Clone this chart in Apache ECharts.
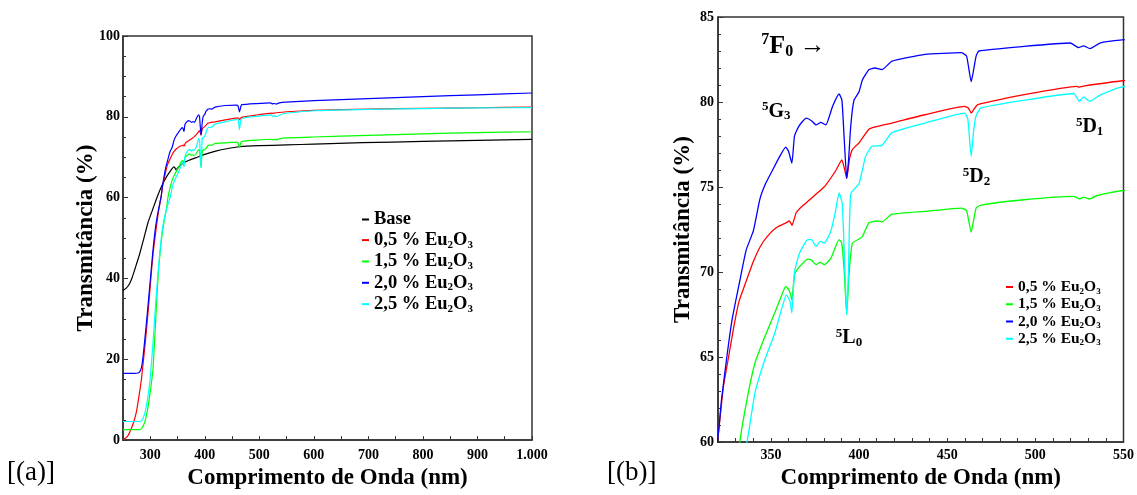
<!DOCTYPE html>
<html><head><meta charset="utf-8">
<script src="https://cdn.jsdelivr.net/npm/echarts@6/dist/echarts.min.js"></script>
<style>html,body{margin:0;padding:0;background:#fff}#c{width:1137px;height:495px}</style>
</head><body><div id="c"></div><script>
const FONT = 'Liberation Serif';
const seriesNames = ['Base', '0,5 % Eu2O3', '1,5 % Eu2O3', '2,0 % Eu2O3', '2,5 % Eu2O3'];
const seriesColors = ['#000000', '#ff0000', '#00ff00', '#0000ff', '#00ffff'];

const base = [[250,37.0],[256,37.6],[262,38.7],[267,40.3],[272,42.4],[280,45.8],[288,49.8],[296,53.9],[305,57.3],[313,60.3],[321,62.9],[330,65.2],[339,67.0],[343,67.6],[345,67.4],[347,66.9],[352,67.6],[360,68.5],[372,69.3],[384,69.9],[400,70.7],[420,71.5],[440,72.1],[464,72.6],[500,72.85],[550,73.05],[600,73.25],[689,73.6],[800,73.9],[900,74.15],[1000,74.4]];

const eu05 = [[250,0.2],[255,0.5],[260,1.3],[265,2.8],[270,4.6],[275,7.3],[280,11.5],[284,15.3],[290,23.0],[296,31.7],[301,39.9],[305,46.0],[310,51.5],[315,56.5],[320,60.3],[323,63.2],[326,65.0],[329,66.8],[332,68.3],[336.3,69.55],[340,70.6],[344,71.5],[348,72.1],[353,72.6],[358.8,72.9],[360.5,73.0],[362,72.75],[364.4,73.5],[368,73.9],[372,74.25],[377,74.7],[381,75.1],[387,76.0],[390.2,76.6],[391.7,76.1],[393,75.5],[394.5,76.6],[396.2,77.2],[400,77.6],[405.6,78.4],[410,78.55],[418.7,78.76],[437.4,79.25],[459.9,79.74],[462,79.65],[463.6,79.35],[465.3,79.6],[467.4,79.85],[493.6,80.43],[523.5,80.92],[525,80.87],[528,80.95],[549.8,81.25],[600,81.6],[700,81.9],[800,82.1],[900,82.25],[1000,82.4]];

const eu15 = [[250,2.6],[280,2.6],[285,3.0],[290,4.5],[295,7.5],[300,12.0],[305,17.5],[310,30.0],[313,37.5],[316,43.5],[320,49.0],[325,53.8],[330,57.5],[332.5,60.1],[337.2,62.9],[341,64.65],[346.6,66.2],[352.2,67.6],[356,68.6],[358.4,69.15],[360.5,68.9],[361.9,68.35],[363.4,69.85],[366.2,70.3],[370.9,70.76],[373,70.7],[375.6,70.43],[378,70.57],[380.3,70.43],[384,70.8],[388.7,71.9],[390.2,71.7],[391.6,70.0],[393,67.5],[394.4,70.0],[396.2,71.7],[400,71.94],[402,72.1],[405.6,72.9],[410,73.0],[413,72.95],[418.7,73.4],[437.4,73.57],[458,73.76],[461,73.6],[463.6,72.35],[466.4,73.76],[469.2,73.94],[493.6,74.25],[521.7,74.45],[525,74.3],[527.3,74.4],[531,74.3],[535,74.5],[548.8,74.78],[600,75.0],[700,75.4],[800,75.8],[900,76.1],[1000,76.3]];

const eu20 = [[250,16.5],[270,16.5],[278,16.6],[282,17.2],[285,18.8],[289,23.5],[294,30.5],[300,39.5],[305,47.0],[310,53.0],[315,57.0],[320,60.3],[322,62.5],[325,65.0],[328,67.2],[332.5,69.55],[336,71.3],[340,72.4],[343.8,74.3],[347,75.2],[351,76.0],[355,76.8],[358.4,77.35],[360,77.1],[361.9,76.4],[363.4,78.0],[366,78.6],[370,79.05],[373,78.9],[375.6,78.65],[378.4,78.8],[381.2,78.65],[385,79.75],[388.7,80.47],[390.3,80.1],[391.5,78.0],[393,75.5],[394,76.5],[395.3,78.6],[397.1,80.1],[400,80.6],[401.9,81.3],[405.6,81.9],[409,82.0],[413,81.9],[418.7,82.4],[437.4,82.8],[458,82.9],[461,82.7],[463.6,81.2],[466.4,82.7],[468,83.0],[493.6,83.27],[519.8,83.47],[524.5,83.2],[527.3,83.3],[531,83.14],[536.6,83.47],[549,83.66],[600,84.0],[700,84.5],[800,85.0],[900,85.45],[1000,85.9]];

const eu25 = [[250,4.6],[280,4.6],[284,4.8],[288,5.8],[292,7.8],[296,11.0],[300,15.5],[305,24.0],[310,34.0],[314,41.0],[318,47.0],[322,52.0],[326,55.0],[330,57.2],[333,58.6],[336.6,60.1],[341,62.9],[346.6,64.85],[352.2,66.4],[356,67.8],[358.8,68.66],[360.8,68.3],[361.9,67.6],[363.4,70.0],[366.2,71.1],[370.9,71.9],[373,71.9],[375.6,71.5],[378,71.8],[380.3,71.7],[384,72.4],[386.5,73.5],[388.7,74.65],[390.5,74.0],[392,70.0],[393,67.5],[394,70.0],[395.3,74.6],[400,75.2],[403.7,76.8],[407.4,77.4],[413,77.45],[418.7,78.2],[437.4,78.76],[459.9,79.35],[461.7,79.0],[463.6,76.8],[465,78.3],[466.4,79.2],[469.2,79.65],[493.6,80.1],[521.7,80.5],[525,80.04],[527.3,80.3],[530.7,80.04],[536.6,80.4],[548.8,80.88],[600,81.5],[700,81.85],[800,82.05],[900,82.2],[1000,82.3]];

const seriesData = [base, eu05, eu15, eu20, eu25];

// level annotations of the zoomed chart: [superscript, letter, subscript, tail, wavelength, transmittance, size]
const levelLabels = [
  ['7', 'F', '0', ' \u2192', 362.8, 83.3, 'big'],
  ['5', 'G', '3', '', 353.0, 79.45, 'small'],
  ['5', 'D', '2', '', 466.6, 75.6, 'small'],
  ['5', 'D', '1', '', 530.8, 78.55, 'small'],
  ['5', 'L', '0', '', 394.3, 66.1, 'small']
];

const chart = echarts.init(document.getElementById('c'), null, {renderer: 'canvas'});

const tickLabel = {fontFamily: FONT, fontWeight: 'bold', fontSize: 14, color: '#000'};
const nameStyle = {fontFamily: FONT, fontWeight: 'bold', fontSize: 23, color: '#000'};
const axisLine = {show: true, onZero: false, lineStyle: {color: '#333', width: 1.5}};

function legendFmt(name) {
  if (name === 'Base') return '{t|Base}';
  return '{t|' + name.replace('Eu2O3', 'Eu') + '}{s|2}{t|O}{s|3}';
}
function legendRich(size) {
  return {
    t: {fontFamily: FONT, fontWeight: 'bold', fontSize: size, color: '#000', lineHeight: size + 2},
    s: {fontFamily: FONT, fontWeight: 'bold', fontSize: Math.round(size * 0.6), color: '#000', verticalAlign: 'bottom', lineHeight: Math.round(size * 0.6) + 1}
  };
}

const series = [];
seriesNames.forEach((n, i) => {
  series.push({
    type: 'line', name: n, xAxisIndex: 0, yAxisIndex: 0, data: seriesData[i],
    showSymbol: false, smooth: 0.15, lineStyle: {width: 1.2, color: seriesColors[i]},
    itemStyle: {color: seriesColors[i]}
  });
});
for (let i = 1; i < seriesNames.length; i++) {
  const s = {
    type: 'line', name: seriesNames[i], xAxisIndex: 1, yAxisIndex: 1, data: seriesData[i],
    showSymbol: false, smooth: 0.15, lineStyle: {width: 1.3, color: seriesColors[i]},
    itemStyle: {color: seriesColors[i]}
  };
  if (i === 3) {
    s.markPoint = {
      symbol: 'circle', symbolSize: 1, itemStyle: {color: 'rgba(0,0,0,0)'},
      silent: true,
      data: levelLabels.map(a => {
        const big = a[6] === 'big';
        return {
          coord: [a[4], a[5]],
          label: {
            show: true, position: 'inside',
            formatter: '{p|' + a[0] + '}{b|' + a[1] + '}{q|' + a[2] + '}' + (a[3] ? '{b|' + a[3] + '}' : ''),
            rich: {
              p: {fontFamily: FONT, fontWeight: 'bold', fontSize: big ? 16 : 13, color: '#000', verticalAlign: 'top', lineHeight: big ? 16 : 13},
              b: {fontFamily: FONT, fontWeight: 'bold', fontSize: big ? 26 : 20, color: '#000', verticalAlign: 'middle', lineHeight: big ? 28 : 22},
              q: {fontFamily: FONT, fontWeight: 'bold', fontSize: big ? 16 : 13, color: '#000', verticalAlign: 'bottom', lineHeight: big ? 16 : 13}
            }
          }
        };
      })
    };
  }
  series.push(s);
}

chart.setOption({
  animation: false,
  backgroundColor: '#fff',
  grid: [
    {left: 123, top: 36, width: 409, height: 406, show: true, borderColor: '#333', borderWidth: 1.5, containLabel: false},
    {left: 718, top: 17, width: 408, height: 425, show: true, borderColor: '#333', borderWidth: 1.5, containLabel: false}
  ],
  xAxis: [
    {type: 'value', gridIndex: 0, min: 250, max: 1000, interval: 50,
     name: 'Comprimento de Onda (nm)', nameLocation: 'middle', nameGap: 25, nameTextStyle: nameStyle,
     axisLine: axisLine, splitLine: {show: false},
     axisTick: {show: true, inside: true, length: 4, lineStyle: {color: '#333'}},
     axisLabel: {...tickLabel, margin: 8, showMinLabel: true, showMaxLabel: true,
       formatter: v => v % 100 === 0 ? (v === 1000 ? '1.000' : String(v)) : ''}},
    {type: 'value', gridIndex: 1, min: 320, max: 550, interval: 10,
     name: 'Comprimento de Onda (nm)', nameLocation: 'middle', nameGap: 21, nameTextStyle: nameStyle,
     axisLine: axisLine, splitLine: {show: false},
     axisTick: {show: true, inside: true, length: 4, lineStyle: {color: '#333'}},
     axisLabel: {...tickLabel, margin: 6, showMinLabel: true, showMaxLabel: true,
       formatter: v => v % 50 === 0 ? String(v) : ''}}
  ],
  yAxis: [
    {type: 'value', gridIndex: 0, min: 0, max: 100, interval: 20,
     name: 'Transmitância (%)', nameLocation: 'middle', nameGap: 25, nameMoveOverlap: false, nameTextStyle: nameStyle,
     axisLine: axisLine, splitLine: {show: false},
     axisTick: {show: true, inside: true, length: 5, lineStyle: {color: '#333'}},
     minorTick: {show: true, splitNumber: 4, length: 3, lineStyle: {color: '#333'}},
     axisLabel: {...tickLabel, margin: 3}},
    {type: 'value', gridIndex: 1, min: 60, max: 85, interval: 5,
     name: 'Transmitância (%)', nameLocation: 'middle', nameGap: 23, nameMoveOverlap: false, nameTextStyle: nameStyle,
     axisLine: axisLine, splitLine: {show: false},
     axisTick: {show: true, inside: true, length: 5, lineStyle: {color: '#333'}},
     minorTick: {show: true, splitNumber: 5, length: 3, lineStyle: {color: '#333'}},
     axisLabel: {...tickLabel, margin: 4}}
  ],
  legend: [
    {orient: 'vertical', left: 357, top: 205, itemGap: 1.6, itemWidth: 7, itemHeight: 2, icon: 'rect',
     data: seriesNames, formatter: legendFmt, textStyle: {rich: legendRich(18.5)}, selectedMode: false},
    {orient: 'vertical', left: 1001, top: 274, itemGap: 0.5, itemWidth: 7, itemHeight: 2, icon: 'rect',
     data: seriesNames.slice(1), formatter: legendFmt, textStyle: {rich: legendRich(15.5)}, selectedMode: false}
  ],
  graphic: [
    {type: 'text', left: 7, top: 459, style: {text: '[(a)]', font: '27px ' + FONT, fill: '#000'}},
    {type: 'text', left: 607, top: 459, style: {text: '[(b)]', font: '27px ' + FONT, fill: '#000'}}
  ],
  series: series
});
</script></body></html>
